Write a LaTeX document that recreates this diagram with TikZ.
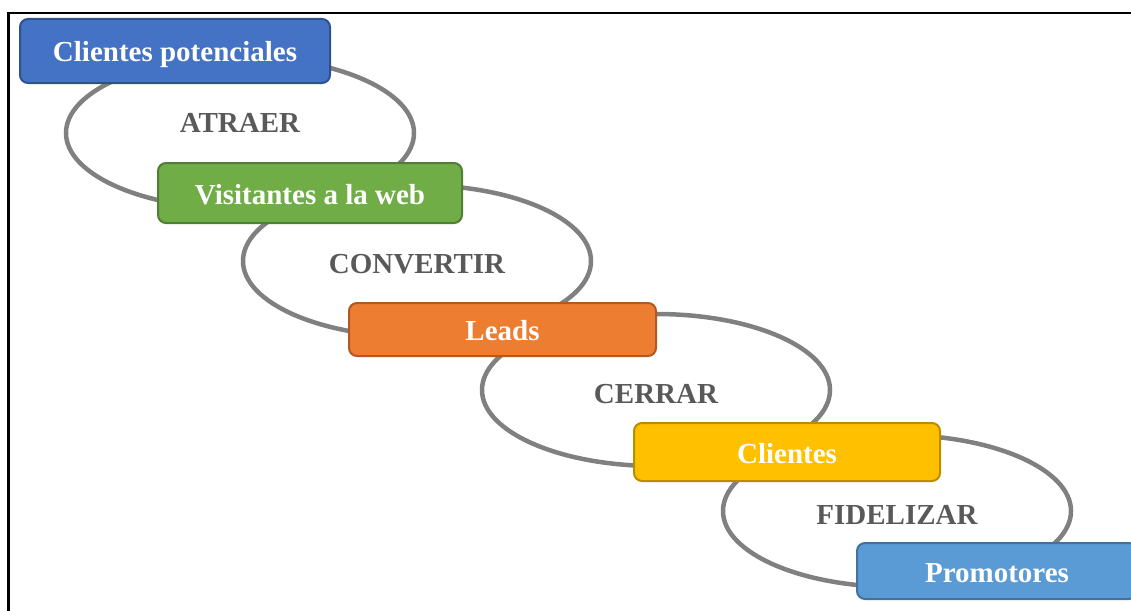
\documentclass[tikz,border=0pt]{standalone}
\usepackage{fontspec}
\setmainfont{Liberation Serif}
\usetikzlibrary{shapes.geometric}
\definecolor{azul}{HTML}{4472C4}
\definecolor{azulborde}{HTML}{2F528F}
\definecolor{verde}{HTML}{70AD47}
\definecolor{verdeborde}{HTML}{507E32}
\definecolor{naranja}{HTML}{ED7D31}
\definecolor{naranjaborde}{HTML}{AE5A21}
\definecolor{oro}{HTML}{FFC000}
\definecolor{oroborde}{HTML}{BC8C00}
\definecolor{celeste}{HTML}{5B9BD5}
\definecolor{celesteborde}{HTML}{41719C}
\definecolor{gris}{HTML}{808080}
\definecolor{grisoscuro}{HTML}{595959}
\tikzstyle{stage} = [rectangle, draw, line width=2pt, rounded corners=8pt, text=white, font=\fontsize{29}{34}\selectfont\bfseries, text centered, inner sep=0pt, text height=22pt, text depth=0pt]
\tikzstyle{orbit} = [ellipse, draw=gris, line width=4.5pt, minimum width=348pt, minimum height=152pt, inner sep=0pt]
\tikzstyle{action} = [text=grisoscuro, font=\fontsize{29}{34}\selectfont\bfseries, inner sep=0pt, text height=19pt, text depth=0pt]

\begin{document}
\begin{tikzpicture}[x=1pt, y=-1pt]
        \useasboundingbox (0,0) rectangle (1131,610);
        \clip (0,0) rectangle (1131,610);
        % Frame
        \draw [line width=2.5pt] (8.3,12.8) rectangle (1160,640);
        % Ellipses
        \node [orbit] (e1) at (240,133) {};
        \node [orbit] (e2) at (417,261) {};
        \node [orbit] (e3) at (656,390) {};
        \node [orbit] (e4) at (897,511) {};
        % Labels
        \node [action] (l1) at ([yshift=10pt]e1.center) {ATRAER};
        \node [action] (l2) at ([yshift=-3pt]e2.center) {CONVERTIR};
        \node [action] (l3) at ([yshift=-4pt]e3.center) {CERRAR};
        \node [action] (l4) at ([yshift=-4pt]e4.center) {FIDELIZAR};
        % Place nodes
        \node [stage, fill=azul, draw=azulborde, minimum width=310pt, minimum height=64pt] (A) at (175,51) {Clientes potenciales};
        \node [stage, fill=verde, draw=verdeborde, minimum width=304pt, minimum height=60pt] (B) at (310,193) {Visitantes a la web};
        \node [stage, fill=naranja, draw=naranjaborde, minimum width=307pt, minimum height=53pt] (C) at (502.5,329.5) {Leads};
        \node [stage, fill=oro, draw=oroborde, minimum width=306pt, minimum height=58pt] (D) at (787,452) {Clientes};
        \node [stage, fill=celeste, draw=celesteborde, minimum width=280pt, minimum height=56pt] (E) at (997,571) {Promotores};
\end{tikzpicture}
\end{document}
